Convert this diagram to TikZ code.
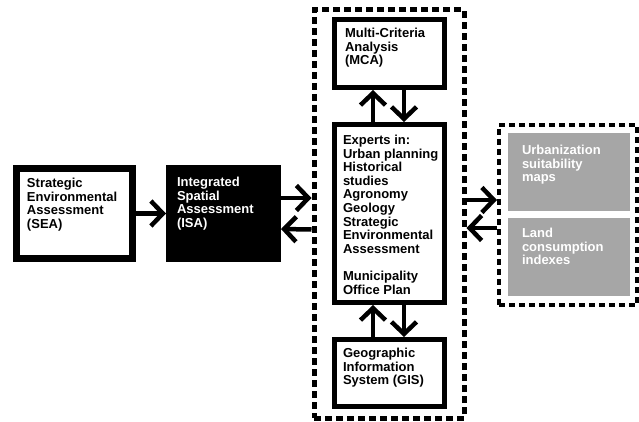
\documentclass[tikz,border=0pt]{standalone}
\usepackage{fontspec}
\setmainfont{Liberation Sans}
\usetikzlibrary{arrows.meta}
\definecolor{boxgray}{RGB}{166,166,166}
\tikzset{
  every node/.style={font=\bfseries\fontsize{13}{13.6}\selectfont},
  box/.style={draw=black, line width=5pt, inner sep=0pt, fill=white},
  txt/.style={anchor=north west, inner sep=0pt, outer sep=0pt, align=left},
  dbox/.style={draw=black, dash pattern=on 7pt off 4pt, inner sep=0pt},
  graybox/.style={fill=boxgray, inner sep=0pt, outer sep=0pt},
  arr/.style={line width=4.5pt, -{Straight Barb[length=12pt,width=25pt]}},
}
\begin{document}
\begin{tikzpicture}[x=1pt,y=-1pt]
\useasboundingbox[fill=white] (0,0) rectangle (639,422);
% dashed containers
\node[dbox, line width=5pt, minimum width=150pt, minimum height=408pt] (big) at (389,214) {};
\node[dbox, line width=4pt, dash pattern=on 6pt off 4pt, minimum width=138pt, minimum height=180pt] (rbox) at (568,215) {};
% boxes
\node[box, line width=7pt, minimum width=116pt, minimum height=90pt] (sea) at (74.5,213.5) {};
\node[fill=black, inner sep=0pt, outer sep=0pt, minimum width=115pt, minimum height=97pt] (isa) at (223.5,213.5) {};
\node[box, minimum width=110pt, minimum height=68pt] (mca) at (389.5,53.5) {};
\node[box, minimum width=110pt, minimum height=178pt] (exp) at (389.5,213.5) {};
\node[box, minimum width=110pt, minimum height=67pt] (gis) at (389.5,373) {};
\node[graybox, minimum width=122pt, minimum height=78pt] (urb) at (569,172) {};
\node[graybox, minimum width=122pt, minimum height=78pt] (land) at (569,257) {};
% texts
\node[txt] (seat) at (27,178) {Strategic\\Environmental\\Assessment\\(SEA)};
\node[txt, text=white] (isat) at (177,177) {Integrated\\Spatial\\Assessment\\(ISA)};
\node[txt] (mcat) at (345,28) {Multi-Criteria\\Analysis\\(MCA)};
\node[txt] (expt) at (343,135) {Experts in:\\Urban planning\\Historical\\studies\\Agronomy\\Geology\\Strategic\\Environmental\\Assessment\\[13.6pt]Municipality\\Office Plan};
\node[txt] (gist) at (343,348) {Geographic\\Information\\System (GIS)};
\node[txt, text=white] (urbt) at (522,145) {Urbanization\\suitability\\maps};
\node[txt, text=white] (landt) at (522,228) {Land\\consumption\\indexes};
% arrows
\draw[arr] (sea.east) -- (isa.west);
\draw[arr] ([yshift=15.5pt]isa.east) -- ([yshift=16pt]big.west);
\draw[arr] ([yshift=-15.5pt]big.west) -- ([yshift=-15.5pt]isa.east);
\draw[arr] ([yshift=14pt]big.east) -- ([yshift=15pt]rbox.west);
\draw[arr] ([yshift=-13pt]rbox.west) -- ([yshift=-14pt]big.east);
\draw[arr] ([xshift=-16.5pt]exp.north) -- ([xshift=-16.5pt]mca.south);
\draw[arr] ([xshift=14.5pt]mca.south) -- ([xshift=14.5pt]exp.north);
\draw[arr] ([xshift=-16.5pt]gis.north) -- ([xshift=-16.5pt]exp.south);
\draw[arr] ([xshift=14.5pt]exp.south) -- ([xshift=14.5pt]gis.north);
\end{tikzpicture}
\end{document}
